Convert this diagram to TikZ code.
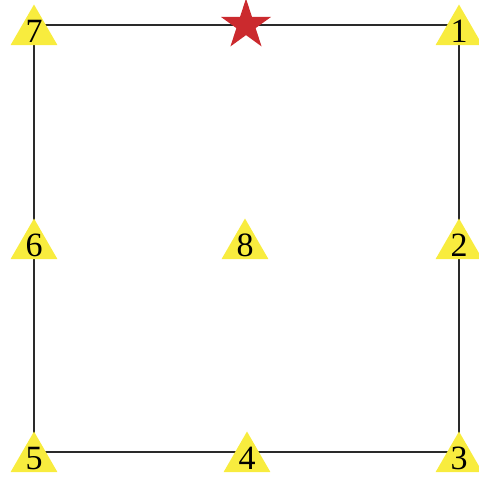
\documentclass[tikz,border=0pt]{standalone}
\usepackage{fontspec}
\setmainfont{Liberation Serif}
\usetikzlibrary{shapes.geometric}
\definecolor{mkyellow}{HTML}{F8EC3E}
\definecolor{mkred}{HTML}{CB2A2E}
\definecolor{edgec}{HTML}{2A2A2A}
\tikzset{
  tri/.style={regular polygon, regular polygon sides=3, fill=mkyellow, draw=none,
              inner sep=0pt, minimum size=54pt, yshift=-6.5pt},
  num/.style={font=\fontsize{34}{34}\selectfont, inner sep=0pt, text=black},
  starmk/.style={star, star points=5, star point ratio=2.62, fill=mkred, draw=none,
                 inner sep=0pt, minimum size=53pt},
  edge/.style={line width=1.7pt, draw=edgec},
}

\begin{document}
\begin{tikzpicture}[x=1pt, y=-1pt]
  \useasboundingbox (0,0) rectangle (479,479);
  % points on the square
  \coordinate (p1) at (459,25);
  \coordinate (p2) at (459,239);
  \coordinate (p3) at (459,452);
  \coordinate (p4) at (247,452);
  \coordinate (p5) at (34,452);
  \coordinate (p6) at (34,239);
  \coordinate (p7) at (34,25);
  \coordinate (p8) at (245,239);
  \draw[edge] (p7) -- (p1) -- (p2) -- (p3) -- (p4) -- (p5) -- (p6) -- cycle;
  % markers
  \foreach \i in {1,...,8}
    \node[tri, label={[num]center:\i}] (n\i) at (p\i) {};
  \node[starmk] (s) at (246,25) {};
\end{tikzpicture}
\end{document}
